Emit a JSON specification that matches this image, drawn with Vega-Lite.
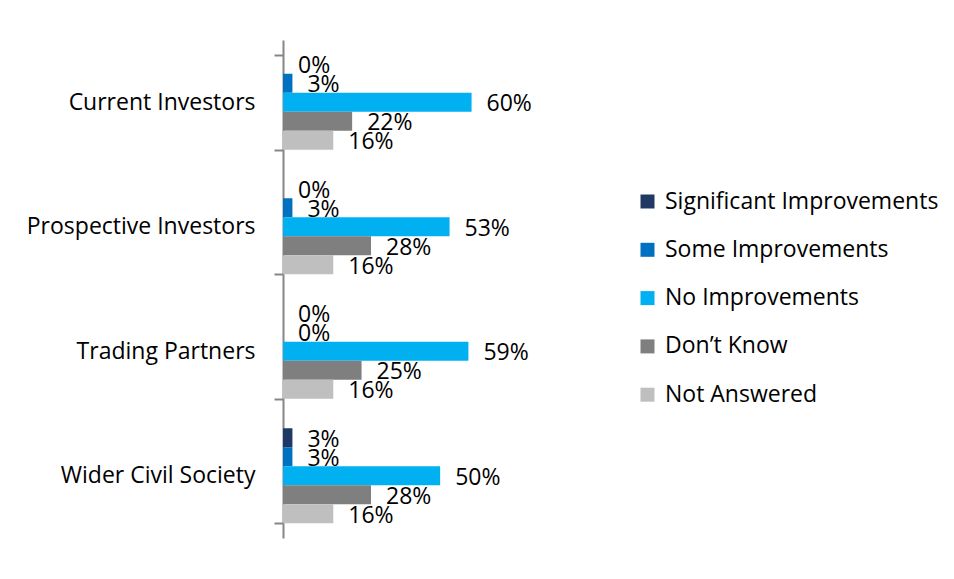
{
  "$schema": "https://vega.github.io/schema/vega-lite/v6.json",
  "autosize": {"type": "none"},
  "padding": {"left": 283, "top": 40, "right": 451, "bottom": 41},
  "width": 220,
  "height": 498,
  "background": "white",
  "config": {"view": {"stroke": null}, "font": "Open Sans"},
  "data": {
    "values": [
      {"group": "Current Investors", "series": "Significant Improvements", "value": 0},
      {"group": "Current Investors", "series": "Some Improvements", "value": 0.03},
      {"group": "Current Investors", "series": "No Improvements", "value": 0.60},
      {"group": "Current Investors", "series": "Don’t Know", "value": 0.22},
      {"group": "Current Investors", "series": "Not Answered", "value": 0.16},
      {"group": "Prospective Investors", "series": "Significant Improvements", "value": 0},
      {"group": "Prospective Investors", "series": "Some Improvements", "value": 0.03},
      {"group": "Prospective Investors", "series": "No Improvements", "value": 0.53},
      {"group": "Prospective Investors", "series": "Don’t Know", "value": 0.28},
      {"group": "Prospective Investors", "series": "Not Answered", "value": 0.16},
      {"group": "Trading Partners", "series": "Significant Improvements", "value": 0},
      {"group": "Trading Partners", "series": "Some Improvements", "value": 0},
      {"group": "Trading Partners", "series": "No Improvements", "value": 0.59},
      {"group": "Trading Partners", "series": "Don’t Know", "value": 0.25},
      {"group": "Trading Partners", "series": "Not Answered", "value": 0.16},
      {"group": "Wider Civil Society", "series": "Significant Improvements", "value": 0.03},
      {"group": "Wider Civil Society", "series": "Some Improvements", "value": 0.03},
      {"group": "Wider Civil Society", "series": "No Improvements", "value": 0.50},
      {"group": "Wider Civil Society", "series": "Don’t Know", "value": 0.28},
      {"group": "Wider Civil Society", "series": "Not Answered", "value": 0.16}
    ]
  },
  "encoding": {
    "y": {
      "field": "group",
      "type": "nominal",
      "sort": ["Current Investors", "Prospective Investors", "Trading Partners", "Wider Civil Society"],
      "scale": {"paddingInner": 0.237, "paddingOuter": 0.1185},
      "axis": {
        "title": null,
        "tickBand": "extent",
        "domainColor": "#868686",
        "domainWidth": 2,
        "tickColor": "#868686",
        "tickWidth": 2,
        "tickSize": 9,
        "labelPadding": 19,
        "labelFontSize": 23,
        "labelLimit": 300,
        "labelColor": "#000000",
        "labelFont": "Open Sans"
      }
    },
    "yOffset": {
      "field": "series",
      "type": "nominal",
      "sort": ["Significant Improvements", "Some Improvements", "No Improvements", "Don’t Know", "Not Answered"],
      "scale": {"paddingInner": 0, "paddingOuter": 0}
    },
    "x": {
      "field": "value",
      "type": "quantitative",
      "scale": {"domain": [0, 0.7], "nice": false},
      "axis": null
    }
  },
  "layer": [
    {
      "mark": {"type": "bar"},
      "encoding": {
        "color": {
          "field": "series",
          "type": "nominal",
          "scale": {
            "domain": ["Significant Improvements", "Some Improvements", "No Improvements", "Don’t Know", "Not Answered"],
            "range": ["#1F3864", "#0070C0", "#00B0F0", "#7F7F7F", "#BFBFBF"]
          },
          "legend": {
            "title": null,
            "orient": "none",
            "legendX": 353,
            "legendY": 150,
            "symbolType": "square",
            "symbolSize": 196,
            "symbolStrokeWidth": 0,
            "labelFontSize": 23,
            "labelFont": "Open Sans",
            "labelColor": "#000000",
            "labelLimit": 400,
            "labelOffset": 6,
            "rowPadding": 24.3
          }
        }
      }
    },
    {
      "mark": {"type": "text", "align": "left", "baseline": "middle", "dx": 15, "dy": 2, "fontSize": 23, "font": "Open Sans", "color": "#000000"},
      "encoding": {
        "text": {"field": "value", "type": "quantitative", "format": ".0%"}
      }
    }
  ]
}
